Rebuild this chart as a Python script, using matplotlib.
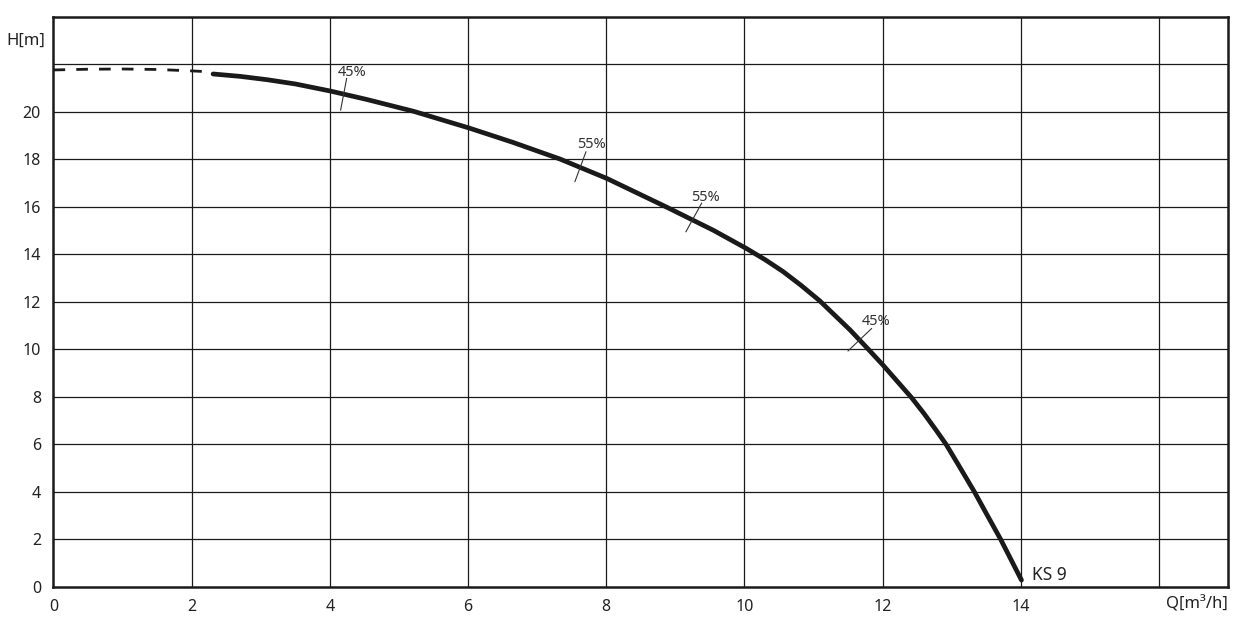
import matplotlib
matplotlib.use("Agg")
import matplotlib.pyplot as plt

plt.rcParams['font.family'] = ['Noto Sans', 'DejaVu Sans']

# dashed part of the curve (low flow)
q_dash = [0.0, 0.5, 1.0, 1.5, 2.0, 2.2]
h_dash = [21.77, 21.8, 21.81, 21.79, 21.73, 21.7]

# solid pump curve KS 9
q_curve = [2.31, 2.70, 3.09, 3.5, 4.01, 4.53, 5.21, 6.01, 6.65, 7.33, 8.01, 8.87,
           9.55, 10.03, 10.3, 10.56, 10.82, 11.09, 11.53, 11.79, 12.01, 12.42,
           12.6, 12.78, 12.92, 13.11, 13.33, 13.5, 13.71, 14.01]
h_curve = [21.6, 21.5, 21.36, 21.18, 20.88, 20.53, 20.03, 19.33, 18.72, 18.02, 17.2, 16.0,
           15.02, 14.25, 13.78, 13.28, 12.7, 12.05, 10.82, 10.02, 9.33, 7.97,
           7.3, 6.58, 6.0, 5.08, 4.0, 3.1, 2.0, 0.29]

# efficiency marks: tick start/end and label position
eff_labels = ["45%", "55%", "55%", "45%"]
eff_ticks = [((4.156, 20.08), (4.243, 21.41)),
             ((7.547, 17.07), (7.706, 18.32)),
             ((9.154, 14.96), (9.381, 16.16)),
             ((11.50, 9.94), (11.84, 10.88))]
eff_text = [(4.32, 21.68), (7.78, 18.61), (9.43, 16.42), (11.90, 11.16)]

x_ticks = [0, 2, 4, 6, 8, 10, 12, 14]
y_ticks = [0, 2, 4, 6, 8, 10, 12, 14, 16, 18, 20]

fig = plt.figure(figsize=(12.47, 6.29), dpi=100)
ax = fig.add_axes([0.0429, 0.0668, 0.9419, 0.9062])

ax.set_xlim(0, 17)
ax.set_ylim(0, 24)

# grid
for gx in range(2, 17, 2):
    ax.axvline(gx, color='#1a1a1a', lw=0.9, zorder=1)
for gy in range(2, 24, 2):
    ax.axhline(gy, color='#1a1a1a', lw=0.9, zorder=1)

ax.plot(q_dash, h_dash, color='#1a1a1a', lw=2.0, dashes=(4.2, 4.0), zorder=3)
ax.plot(q_curve, h_curve, color='#1a1a1a', lw=3.4, solid_capstyle='round',
        solid_joinstyle='round', zorder=3)

for (p0, p1), (tx, ty), lab in zip(eff_ticks, eff_text, eff_labels):
    ax.plot([p0[0], p1[0]], [p0[1], p1[1]], color='#333333', lw=0.8, zorder=4)
    ax.text(tx, ty, lab, fontsize=10.5, color='#333333', ha='center', va='center', zorder=4)

ax.text(14.16, 0.5, "KS 9", fontsize=12.5, color='#222222', ha='left', va='center')

ax.set_xticks(x_ticks)
ax.set_yticks(y_ticks)
ax.tick_params(length=0, labelsize=11.5, colors='#222222')
ax.tick_params(axis='x', pad=9)
ax.tick_params(axis='y', pad=9)

for s in ax.spines.values():
    s.set_linewidth(1.8)
    s.set_color('#1a1a1a')

ax.text(-0.12, 23.0, "H[m]", fontsize=12, color='#222222', ha='right', va='center')
ax.text(17.0, -0.75, "Q[m³/h]", fontsize=12, color='#222222', ha='right', va='center')

fig.savefig("out.png", dpi=100)
